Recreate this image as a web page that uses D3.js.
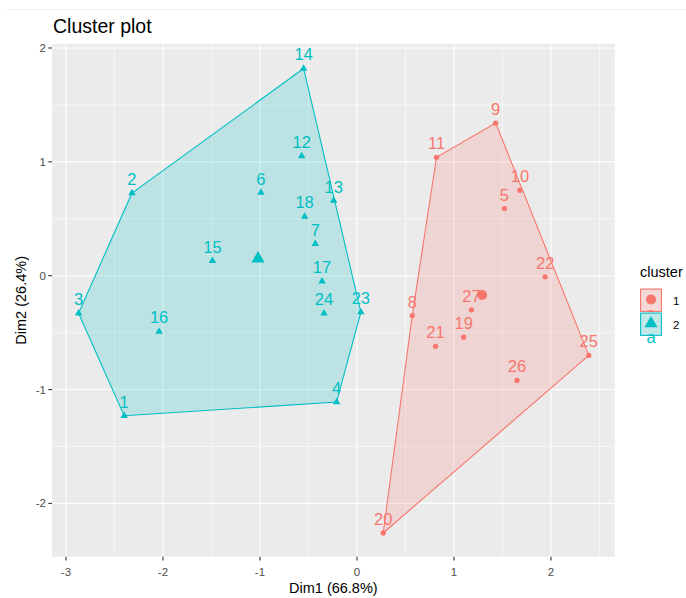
<!DOCTYPE html>
<meta charset="utf-8">
<title>Cluster plot</title>
<style>
  body { margin: 0; background: #fff; }
  text { font-family: "Liberation Sans", Arial, sans-serif; }
</style>
<body>
<div id="chart"></div>
<script src="https://d3js.org/d3.v7.min.js"></script>
<script>

// observations 1..27, their coordinates on the first two dimensions and the cluster
const ids     = d3.range(1, 28);
const dim1    = [-2.40, -2.32, -2.87, -0.21, 1.52, -0.99, -0.43, 0.57, 1.43, 1.68, 0.82, -0.57, -0.24, -0.55,
                 -1.49, -2.04, -0.36, -0.54, 1.10, 0.27, 0.81, 1.94, 0.04, -0.34, 2.39, 1.65, 1.18];
const dim2    = [-1.23, 0.725, -0.33, -1.11, 0.59, 0.73, 0.28, -0.35, 1.34, 0.75, 1.04, 1.05, 0.66, 1.82,
                 0.13, -0.49, -0.05, 0.52, -0.54, -2.26, -0.62, -0.01, -0.32, -0.33, -0.70, -0.92, -0.30];
const cluster = [2, 2, 2, 2, 1, 2, 2, 1, 1, 1, 1, 2, 2, 2, 2, 2, 2, 2, 1, 1, 1, 1, 2, 2, 1, 1, 1];

// cluster centres
const centers   = ["1", "2"];
const centerX   = [1.29, -1.02];
const centerY   = [-0.17, 0.15];

const xTicks = [-3, -2, -1, 0, 1, 2];
const yTicks = [-2, -1, 0, 1, 2];

const colors = {"1": "#F8766D", "2": "#00BFC4"};

const W = 686, H = 598;
const panel = {left: 52, right: 614.7, top: 44, bottom: 556.7};

const svg = d3.select("#chart").append("svg")
    .attr("width", W).attr("height", H);

svg.append("rect").attr("width", W).attr("height", H).attr("fill", "#fff");
svg.append("line").attr("x1", 7).attr("x2", W).attr("y1", 9.5).attr("y2", 9.5)
    .attr("stroke", "#eeeeee").attr("stroke-width", 1);

const x = d3.scaleLinear().domain([-3.144, 2.657]).range([panel.left, panel.right]);
const y = d3.scaleLinear().domain([-2.468, 2.035]).range([panel.bottom, panel.top]);

const pts = ids.map((id, i) => ({id, x: dim1[i], y: dim2[i], c: String(cluster[i])}));

// panel
svg.append("rect")
    .attr("x", panel.left).attr("y", panel.top)
    .attr("width", panel.right - panel.left).attr("height", panel.bottom - panel.top)
    .attr("fill", "#EBEBEB");

const grid = svg.append("g");
const minorX = [-2.5, -1.5, -0.5, 0.5, 1.5, 2.5];
const minorY = [-1.5, -0.5, 0.5, 1.5];
grid.selectAll(".mx").data(minorX).join("line")
    .attr("x1", d => x(d)).attr("x2", d => x(d)).attr("y1", panel.top).attr("y2", panel.bottom)
    .attr("stroke", "#fff").attr("stroke-width", 0.55);
grid.selectAll(".my").data(minorY).join("line")
    .attr("y1", d => y(d)).attr("y2", d => y(d)).attr("x1", panel.left).attr("x2", panel.right)
    .attr("stroke", "#fff").attr("stroke-width", 0.55);
grid.selectAll(".gx").data(xTicks).join("line")
    .attr("x1", d => x(d)).attr("x2", d => x(d)).attr("y1", panel.top).attr("y2", panel.bottom)
    .attr("stroke", "#fff").attr("stroke-width", 1.1);
grid.selectAll(".gy").data(yTicks).join("line")
    .attr("y1", d => y(d)).attr("y2", d => y(d)).attr("x1", panel.left).attr("x2", panel.right)
    .attr("stroke", "#fff").attr("stroke-width", 1.1);

// hulls
centers.forEach(c => {
  const hull = d3.polygonHull(pts.filter(p => p.c === c).map(p => [x(p.x), y(p.y)]));
  svg.append("path")
      .attr("d", "M" + hull.join("L") + "Z")
      .attr("fill", colors[c]).attr("fill-opacity", 0.2)
      .attr("stroke", colors[c]).attr("stroke-width", 1.1);
});

const tri = (s) => d3.symbol().type(d3.symbolTriangle).size(s)();

// points
svg.append("g").selectAll("path").data(pts).join("path")
    .attr("transform", d => `translate(${x(d.x)},${y(d.y)})`)
    .attr("d", d => d.c === "1" ? d3.symbol().type(d3.symbolCircle).size(22)() : tri(24))
    .attr("fill", d => colors[d.c]);

// labels
svg.append("g").selectAll("text").data(pts).join("text")
    .attr("x", d => x(d.x)).attr("y", d => y(d.y) - 8)
    .attr("text-anchor", "middle")
    .attr("font-size", 16.5)
    .attr("fill", d => colors[d.c])
    .text(d => d.id);

// centres
svg.append("g").selectAll("path").data(centers).join("path")
    .attr("transform", (d, i) => `translate(${x(centerX[i])},${y(centerY[i])})`)
    .attr("d", d => d === "1" ? d3.symbol().type(d3.symbolCircle).size(80)() : tri(75))
    .attr("fill", d => colors[d]);

// axes
const axisG = svg.append("g").attr("fill", "#4D4D4D").attr("font-size", 11.5);
axisG.selectAll(".tx").data(xTicks).join("line")
    .attr("x1", d => x(d)).attr("x2", d => x(d))
    .attr("y1", panel.bottom).attr("y2", panel.bottom + 3.7)
    .attr("stroke", "#333").attr("stroke-width", 1.1);
axisG.selectAll(".lx").data(xTicks).join("text")
    .attr("x", d => x(d)).attr("y", panel.bottom + 19)
    .attr("text-anchor", "middle").text(d => d);
axisG.selectAll(".ty").data(yTicks).join("line")
    .attr("y1", d => y(d)).attr("y2", d => y(d))
    .attr("x1", panel.left - 3.7).attr("x2", panel.left)
    .attr("stroke", "#333").attr("stroke-width", 1.1);
axisG.selectAll(".ly").data(yTicks).join("text")
    .attr("x", panel.left - 6).attr("y", d => y(d) + 4)
    .attr("text-anchor", "end").text(d => d);

svg.append("text")
    .attr("x", (panel.left + panel.right) / 2).attr("y", 593)
    .attr("text-anchor", "middle").attr("font-size", 14.5).attr("fill", "#000")
    .text("Dim1 (66.8%)");
svg.append("text")
    .attr("transform", `translate(26,${(panel.top + panel.bottom) / 2}) rotate(-90)`)
    .attr("text-anchor", "middle").attr("font-size", 14.5).attr("fill", "#000")
    .text("Dim2 (26.4%)");

svg.append("text")
    .attr("x", 53).attr("y", 33)
    .attr("font-size", 19.5).attr("fill", "#000")
    .text("Cluster plot");

// legend
const leg = svg.append("g").attr("transform", "translate(640,0)");
leg.append("text").attr("x", 0).attr("y", 277).attr("font-size", 14.5).text("cluster");
centers.forEach((c, i) => {
  const top = 288.5 + i * 24;
  const k = leg.append("g");
  k.append("rect").attr("x", 0).attr("y", top).attr("width", 22).attr("height", 23.5).attr("fill", "#F2F2F2");
  k.append("rect").attr("x", 0.6).attr("y", top + 0.6).attr("width", 20.8).attr("height", 22.3)
      .attr("fill", colors[c]).attr("fill-opacity", 0.2)
      .attr("stroke", colors[c]).attr("stroke-width", 1.1);
  k.append("path")
      .attr("transform", `translate(11,${top + 11})`)
      .attr("d", c === "1" ? d3.symbol().type(d3.symbolCircle).size(80)() : tri(75))
      .attr("fill", colors[c]);
  k.append("text").attr("x", 11).attr("y", top + 30).attr("text-anchor", "middle")
      .attr("font-size", 16.5).attr("fill", colors[c]).text("a");
  leg.append("text").attr("x", 33).attr("y", top + 16).attr("font-size", 11.5)
      .attr("fill", "#000").text(c);
});

</script>
</body>
